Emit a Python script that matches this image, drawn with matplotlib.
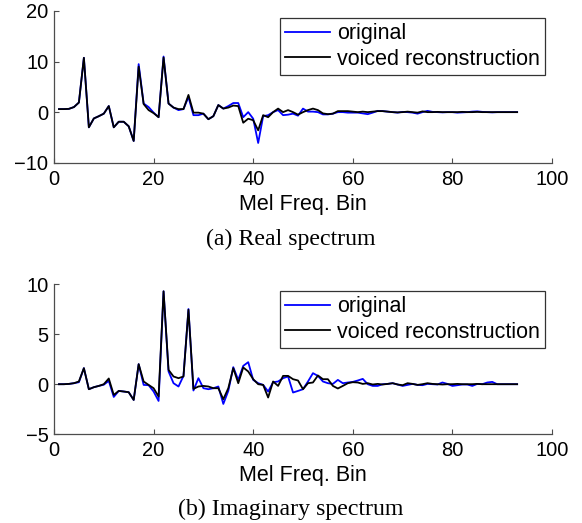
import matplotlib
matplotlib.use("Agg")
import matplotlib.pyplot as plt
import numpy as np

bins = list(range(1, 94))

orig_real = [0.6, 0.6, 0.65, 1.0, 1.9, 10.75, -3.0, -1.25, -0.8, -0.3,
             1.2, -3.0, -1.9, -1.9, -2.8, -5.7, 9.5, 1.7, 1.0, -0.1,
             -1.0, 11.0, 1.7, 0.9, 0.4, 0.6, 3.0, -0.6, -0.6, -0.3,
             -1.4, -0.8, 1.4, 0.7, 1.2, 1.8, 1.8, -1.0, 0.0, -1.3,
             -6.1, -0.8, -0.6, 0.0, 0.4, -0.6, -0.5, -0.3, -0.7, 0.7,
             0.1, 0.1, 0.0, -0.45, -0.45, -0.3, 0.0, 0.0, -0.1, -0.1,
             -0.1, -0.25, -0.4, -0.1, 0.25, 0.2, 0.1, 0.0, -0.1, 0.05,
             0.0, -0.1, -0.3, 0.0, 0.25, 0.05, 0.0, -0.05, 0.0, 0.0,
             -0.1, -0.05, 0.0, 0.1, 0.15, 0.05, 0.0, -0.05, 0.0, 0.0,
             0.0, 0.0, 0.0]

voiced_real = [0.6, 0.6, 0.65, 1.0, 1.9, 10.75, -3.0, -1.25, -0.8, -0.3,
               1.2, -3.0, -1.9, -1.9, -2.8, -5.7, 9.0, 1.6, 0.4, -0.2,
               -1.0, 10.8, 1.7, 0.9, 0.6, 0.6, 3.4, -0.1, -0.1, -0.3,
               -1.4, -0.8, 1.4, 0.7, 0.9, 1.3, 1.2, -2.1, -1.3, -1.6,
               -3.6, -0.6, -1.0, 0.0, 0.7, 0.0, 0.4, 0.0, -0.5, 0.0,
               0.4, 0.7, 0.4, -0.25, -0.4, -0.3, 0.2, 0.2, 0.2, 0.1,
               0.0, 0.1, 0.0, 0.1, 0.2, 0.2, 0.1, 0.0, -0.05, 0.0,
               0.1, 0.0, -0.1, 0.15, 0.0, 0.0, 0.05, 0.0, 0.0, 0.0,
               0.0, 0.05, 0.0, 0.0, 0.05, 0.0, 0.0, 0.0, 0.0, 0.0,
               0.0, 0.0, 0.0]

orig_imag = [0.0, 0.0, 0.03, 0.1, 0.2, 1.6, -0.5, -0.3, -0.17, -0.05,
             0.33, -1.27, -0.67, -0.73, -0.8, -1.57, 2.0, -0.07, -0.1, -0.73,
             -1.67, 9.27, 1.27, 0.1, -0.23, 0.83, 7.5, -0.63, 0.6, -0.4,
             -0.5, -0.4, -0.23, -1.97, -0.67, 1.7, 0.43, 1.83, 2.2, 0.43,
             0.1, -0.07, -0.73, 0.2, 0.27, 0.6, 0.77, -0.83, -0.67, -0.5,
             0.27, 1.1, 0.83, 0.27, 0.1, 0.03, 0.43, 0.1, 0.17, 0.23,
             0.37, 0.53, 0.0, -0.17, -0.17, 0.0, 0.03, 0.1, -0.03, -0.17,
             -0.07, 0.03, -0.07, -0.1, 0.03, 0.0, -0.03, 0.17, 0.03, -0.17,
             -0.1, -0.03, -0.03, -0.17, 0.03, 0.0, 0.17, 0.23, 0.0, 0.0,
             0.0, 0.0, 0.0]

voiced_imag = [0.0, 0.0, 0.03, 0.1, 0.27, 1.6, -0.5, -0.3, -0.17, 0.0,
               0.57, -1.07, -0.67, -0.73, -0.8, -1.57, 2.0, 0.27, -0.07, -0.4,
               -1.23, 9.27, 1.43, 0.77, 0.6, 0.77, 7.43, -0.47, -0.23, -0.17,
               -0.23, -0.4, -0.4, -1.5, -0.4, 1.6, 0.1, 1.67, 1.27, 0.5,
               0.0, -0.07, -1.33, 0.27, -0.17, 0.83, 0.83, 0.5, 0.37, -0.5,
               0.1, 0.17, 0.87, 0.5, 0.5, -0.17, -0.43, -0.17, 0.1, 0.2,
               0.17, 0.03, 0.1, -0.03, 0.03, -0.03, 0.03, 0.1, -0.03, -0.1,
               0.1, 0.03, -0.07, 0.0, 0.1, 0.03, 0.0, -0.03, 0.0, 0.0,
               0.03, 0.0, 0.0, 0.0, 0.03, 0.0, 0.0, 0.0, 0.0, 0.0,
               0.0, 0.0, 0.0]

xticks = [0, 20, 40, 60, 80, 100]
yticks_real = [-10, 0, 10, 20]
yticks_imag = [-5, 0, 5, 10]
legend_labels = ["original", "voiced reconstruction"]
xlabel_text = "Mel Freq. Bin"
captions = ["(a) Real spectrum", "(b) Imaginary spectrum"]

plt.rcParams['font.family'] = ['Liberation Sans', 'DejaVu Sans']
W, H = 582, 523
fig = plt.figure(figsize=(W / 100, H / 100), dpi=100)

FS = 14.5
LFS = 15.5

def make_axes(rect, orig, voiced, yticks):
    ax = fig.add_axes(rect)
    ax.plot(bins, orig, color=(0, 0, 1), lw=1.3, label=legend_labels[0])
    ax.plot(bins, voiced, color='black', lw=1.3, label=legend_labels[1])
    ax.set_xlim(0, 100)
    ax.set_ylim(yticks[0], yticks[-1])
    ax.set_xticks(xticks)
    ax.set_yticks(yticks)
    for s in ['top', 'right']:
        ax.spines[s].set_visible(False)
    for s in ['left', 'bottom']:
        ax.spines[s].set_color('0.3')
        ax.spines[s].set_linewidth(0.9)
    ax.tick_params(direction='in', length=3.6, width=0.8, color='0.3',
                   labelsize=FS, labelcolor='black')
    ax.tick_params(axis='y', pad=4)
    ax.tick_params(axis='x', pad=5)
    ax.set_xlabel(xlabel_text, fontsize=LFS, labelpad=3.5)
    leg = ax.legend(loc='upper right', fontsize=LFS, frameon=True, fancybox=False,
                    borderaxespad=0.32, borderpad=0.25, labelspacing=0.2,
                    handlelength=2.1, handletextpad=0.3)
    leg.get_frame().set_edgecolor('black')
    leg.get_frame().set_linewidth(0.9)
    return ax

left = 54 / W
width = (552 - 54) / W
ax1 = make_axes([left, 1 - 162.7 / H, width, (162.7 - 11) / H], orig_real, voiced_real, yticks_real)
ax2 = make_axes([left, 1 - 434.3 / H, width, (434.3 - 284) / H], orig_imag, voiced_imag, yticks_imag)

fig.text(0.5, 1 - 239 / H, captions[0], ha='center', va='center',
         fontsize=17.2, family=['Liberation Serif', 'DejaVu Serif'])
fig.text(0.5, 1 - 509 / H, captions[1], ha='center', va='center',
         fontsize=17.2, family=['Liberation Serif', 'DejaVu Serif'])

fig.savefig("out.png", dpi=100)
